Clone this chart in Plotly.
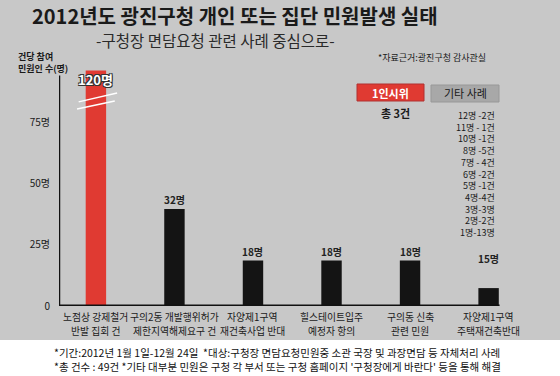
import plotly.graph_objects as go

cat_line1 = ["노점상 강제철거", "구의2동 개발행위허가", "자양제1구역",
             "힐스테이트입주", "구의동 신축", "자양제1구역"]
cat_line2 = ["반발 집회 건", "제한지역해제요구 건", "재건축사업 반대",
             "예정자 항의", "관련 민원", "주택재건축반대"]
# counts as labeled
counts = [120, 32, 18, 18, 18, 15]
# bar heights as drawn on the axis (not to scale with labels)
bar_heights = [96, 39.5, 18.5, 18.5, 18.5, 7.3]
label_heights = [None, 39.5, 18.5, 18.5, 18.5, 15.5]
bar_colors = ["#e03a32", "#141414", "#141414", "#141414", "#141414", "#141414"]

ytick_vals = [0, 25, 50, 75]
ytick_text = ["0", "25명", "50명", "75명"]

other_cases = ["12명 -2건", "11명 - 1건", "10명 -1건", "8명 -5건", "7명 - 4건", "6명 -2건",
               "5명 -1건", "4명-4건", "3명-3명", "2명-2건", "1명-13명"]

FONT = "Noto Sans CJK KR"
BG = "#c8c8c8"

xs = list(range(len(cat_line1)))
fig = go.Figure()
fig.add_trace(go.Bar(
    x=xs, y=bar_heights,
    marker=dict(color=bar_colors, line=dict(width=0)),
    width=0.26, hoverinfo="skip",
))

W, H = 560, 376
L, R, T, B = 59, 40, 70, 70
pw, ph = W - L - R, H - T - B

anns = []
for i, (c, h) in enumerate(zip(counts, label_heights)):
    if h is None:
        continue
    anns.append(dict(x=i, y=h, xref="x", yref="y", text=f"{c}명", showarrow=False,
                     yanchor="bottom", yshift=0,
                     font=dict(family=FONT, size=10, color="#222", weight="bold")))
# category labels (two lines)
for i in xs:
    anns.append(dict(x=i, y=1 - (317 - T) / ph, xref="x", yref="paper", text=cat_line1[i],
                     showarrow=False, xanchor="center", yanchor="middle",
                     font=dict(family=FONT, size=9.8, color="#1a1a1a")))
    anns.append(dict(x=i, y=1 - (331 - T) / ph, xref="x", yref="paper", text=cat_line2[i],
                     showarrow=False, xanchor="center", yanchor="middle",
                     font=dict(family=FONT, size=9.8, color="#1a1a1a")))
# 120명 label on red bar
anns.append(dict(x=0, y=96, xref="x", yref="y", text="120명", showarrow=False,
                 yanchor="bottom", yshift=-21,
                 font=dict(family=FONT, size=13, color="white", weight="bold",
                           shadow="1px 1px 0 #333, -1px -1px 0 #333, 1px -1px 0 #333, -1px 1px 0 #333")))

px_anns = []
# titles
px_anns.append(dict(x=235, y=16, text="2012년도 광진구청 개인 또는 집단 민원발생 실태",
                    font=dict(family=FONT, size=20, color="#1a1a1a", weight="bold")))
px_anns.append(dict(x=215, y=40, text="-구청장 면담요청 관련 사례 중심으로-",
                    font=dict(family=FONT, size=15.5, color="#2a2a2a")))
px_anns.append(dict(x=16, y=62, text="건당 참여<br>민원인 수(명)", align="left", xanchor="left",
                    font=dict(family=FONT, size=9, color="#1a1a1a", weight="bold")))
px_anns.append(dict(x=432, y=58, text="*자료근거:광진구청 감사관실",
                    font=dict(family=FONT, size=9, color="#1a1a1a")))
px_anns.append(dict(x=390.5, y=92.5, text="1인시위",
                    font=dict(family=FONT, size=11, color="white", weight="bold")))
px_anns.append(dict(x=465, y=93.5, text="기타 사례",
                    font=dict(family=FONT, size=11, color="#1a1a1a")))
px_anns.append(dict(x=395, y=113, text="총 3건",
                    font=dict(family=FONT, size=11, color="#1a1a1a", weight="bold")))
px_anns.append(dict(x=497, y=107, text="<br>".join(other_cases),
                    xanchor="right", yanchor="top", align="right",
                    font=dict(family=FONT, size=9, color="#1a1a1a")))
# footer
px_anns.append(dict(x=277, y=352,
                    text="*기간:2012년 1월 1일-12월 24일  *대상:구청장 면담요청민원중 소관 국장 및 과장면담 등 자체처리 사례",
                    font=dict(family=FONT, size=10.5, color="#111")))
px_anns.append(dict(x=277, y=366,
                    text="*총 건수 : 49건 *기타 대부분 민원은 구청 각 부서 또는 구청 홈페이지 '구청장에게 바란다' 등을 통해 해결",
                    font=dict(family=FONT, size=10.5, color="#111")))

# convert pixel coordinates into paper fractions
for a in px_anns:
    a["xref"] = "paper"
    a["yref"] = "paper"
    a["showarrow"] = False
    a["x"] = (a["x"] - L) / pw
    a["y"] = 1 - (a["y"] - T) / ph
    a.setdefault("yanchor", "middle")
    a.setdefault("xanchor", "center")
anns.extend(px_anns)

def px_rect(x0, y0, x1, y1, layer="below", **kw):
    return dict(type="rect", xref="paper", yref="paper",
                x0=(x0 - L) / pw, x1=(x1 - L) / pw,
                y0=1 - (y0 - T) / ph, y1=1 - (y1 - T) / ph, layer=layer, **kw)

shapes = [
    px_rect(0, 0, W, 340, fillcolor=BG, line=dict(width=0)),
    px_rect(357, 84, 424, 101, layer="above", fillcolor="#e03a32", line=dict(color="#b03030", width=1)),
    px_rect(431, 85, 499, 102, layer="above", fillcolor="#a8a8a8", line=dict(color="#989898", width=1)),
    # y axis line
    dict(type="line", xref="x", yref="y", x0=-0.47, x1=-0.47, y0=0, y1=94,
         line=dict(color="#111", width=2.5), layer="above"),
    # baseline
    dict(type="line", xref="x", yref="y", x0=-0.47, x1=5.14, y0=0, y1=0,
         line=dict(color="#111", width=3), layer="above"),
    # break marks on red bar
    dict(type="line", xref="x", yref="y", x0=-0.22, x1=0.27, y0=83.2, y1=86.8,
         line=dict(color="white", width=1.5), layer="above"),
    dict(type="line", xref="x", yref="y", x0=-0.24, x1=0.24, y0=80.3, y1=83.6,
         line=dict(color="white", width=1.5), layer="above"),
]

fig.update_layout(
    width=W, height=H,
    margin=dict(l=L, r=R, t=T, b=B, autoexpand=False),
    paper_bgcolor="white", plot_bgcolor="rgba(0,0,0,0)",
    showlegend=False,
    annotations=anns, shapes=shapes,
    font=dict(family=FONT),
    xaxis=dict(range=[-0.47, 5.4], showticklabels=False, showgrid=False, zeroline=False,
               showline=False, ticks="", automargin=False, fixedrange=True),
    yaxis=dict(range=[0, 96.2], tickvals=ytick_vals, ticktext=ytick_text, showgrid=False,
               zeroline=False, showline=False, ticks="", ticklabelstandoff=8, automargin=False,
               tickfont=dict(family=FONT, size=10, color="#1a1a1a"), fixedrange=True),
)

fig.write_html("out.html", config={"displayModeBar": False},
               post_script="document.body.style.margin='0';document.body.style.overflow='hidden';")
